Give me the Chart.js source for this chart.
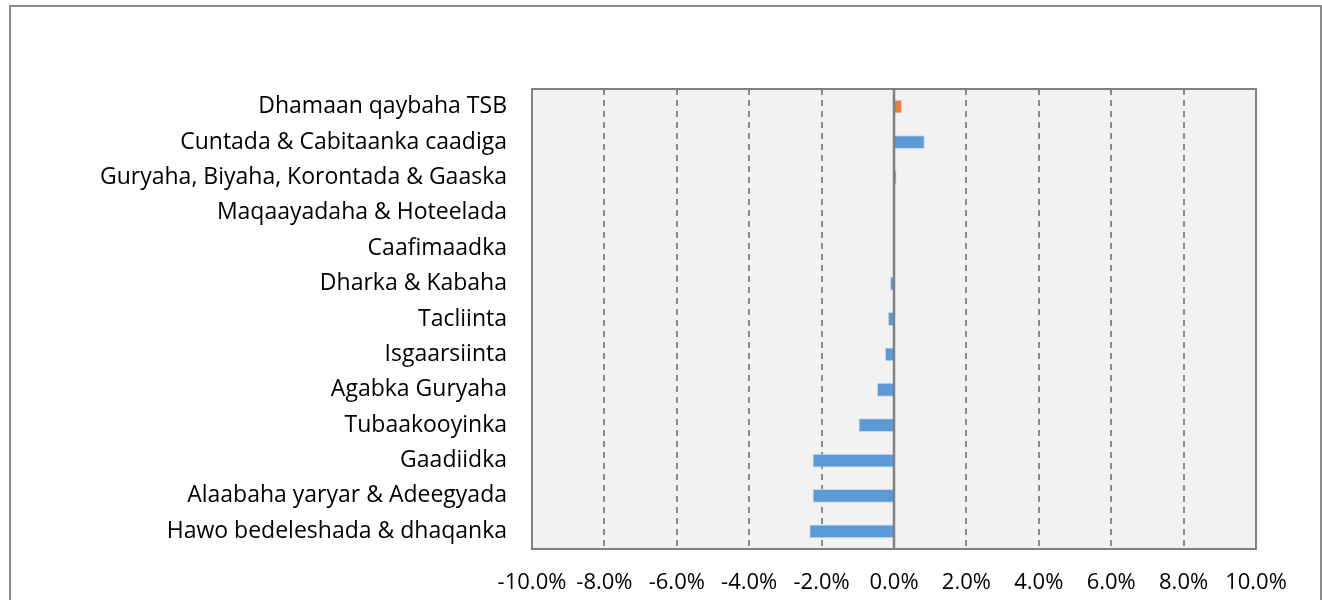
<!DOCTYPE html>
<html>
<head>
<meta charset="utf-8">
<script src="https://cdn.jsdelivr.net/npm/chart.js@4/dist/chart.umd.min.js"></script>
<style>
  body { margin: 0; background: #fff; }
  #wrap { position: absolute; left: 0; top: 0; width: 1322px; height: 600px; }
</style>
</head>
<body>
<div id="wrap"><canvas id="myChart"></canvas></div>
<script>
const categories = [
  "Dhamaan qaybaha TSB",
  "Cuntada & Cabitaanka caadiga",
  "Guryaha, Biyaha, Korontada & Gaaska",
  "Maqaayadaha & Hoteelada",
  "Caafimaadka",
  "Dharka & Kabaha",
  "Tacliinta",
  "Isgaarsiinta",
  "Agabka Guryaha",
  "Tubaakooyinka",
  "Gaadiidka",
  "Alaabaha yaryar & Adeegyada",
  "Hawo bedeleshada & dhaqanka"
];
const changes = [0.22, 0.85, 0.07, 0, 0, -0.11, -0.17, -0.25, -0.47, -0.98, -2.25, -2.25, -2.34];
const barColors = ["#ED7D31", "#5B9BD5", "#5B9BD5", "#5B9BD5", "#5B9BD5", "#5B9BD5", "#5B9BD5",
  "#5B9BD5", "#5B9BD5", "#5B9BD5", "#5B9BD5", "#5B9BD5", "#5B9BD5"];
const xTicks = [-10, -8, -6, -4, -2, 0, 2, 4, 6, 8, 10];

const fontName = "'Open Sans', sans-serif";

// background of plot, outer frame, zero line and plot border
const decor = {
  id: "decor",
  beforeDraw(chart) {
    const c = chart.ctx, a = chart.chartArea;
    c.save();
    c.fillStyle = "#F2F2F2";
    c.fillRect(a.left, a.top, a.right - a.left, a.bottom - a.top);
    c.strokeStyle = "#8C8C8C";
    c.lineWidth = 2;
    c.strokeRect(10, 6, 1311, 700);
    c.restore();
  },
  afterDatasetsDraw(chart) {
    const c = chart.ctx, a = chart.chartArea;
    const x0 = chart.scales.x.getPixelForValue(0);
    c.save();
    c.strokeStyle = "#808080";
    c.lineWidth = 2.5;
    c.beginPath();
    c.moveTo(x0, a.top);
    c.lineTo(x0, a.bottom);
    c.stroke();
    c.lineWidth = 2;
    c.strokeRect(a.left, a.top, a.right - a.left, a.bottom - a.top);
    c.restore();
  }
};

const ctx = document.getElementById("myChart").getContext("2d");
const chart = new Chart(ctx, {
  type: "bar",
  data: {
    labels: categories,
    datasets: [{
      data: changes,
      backgroundColor: barColors,
      borderColor: "rgba(190,215,240,0.9)",
      borderWidth: 1,
      barPercentage: 0.78,
      categoryPercentage: 0.5
    }]
  },
  options: {
    indexAxis: "y",
    responsive: true,
    maintainAspectRatio: false,
    animation: false,
    layout: { padding: { left: 0, top: 89, right: 66, bottom: 0 } },
    plugins: { legend: { display: false }, tooltip: { enabled: false } },
    scales: {
      x: {
        min: -10,
        max: 10,
        afterBuildTicks(axis) { axis.ticks = xTicks.map(v => ({ value: v })); },
        afterFit(axis) { axis.height = 51; },
        ticks: {
          padding: 21,
          color: "#000",
          maxRotation: 0,
          minRotation: 0,
          autoSkip: false,
          font: { family: fontName, size: 22 },
          callback: (v) => v.toFixed(1) + "%"
        },
        grid: {
          drawTicks: false,
          color: (c) => (c.tick && c.tick.value === 0) ? "rgba(0,0,0,0)" : "#8C8C8C",
          lineWidth: 2
        },
        border: { display: false, dash: [6, 5] }
      },
      y: {
        afterFit(axis) { axis.width = 532; },
        ticks: {
          padding: 25,
          color: "#000",
          font: { family: fontName, size: 23 }
        },
        grid: { display: false, drawTicks: false },
        border: { display: false }
      }
    }
  },
  plugins: [decor]
});
</script>
</body>
</html>
